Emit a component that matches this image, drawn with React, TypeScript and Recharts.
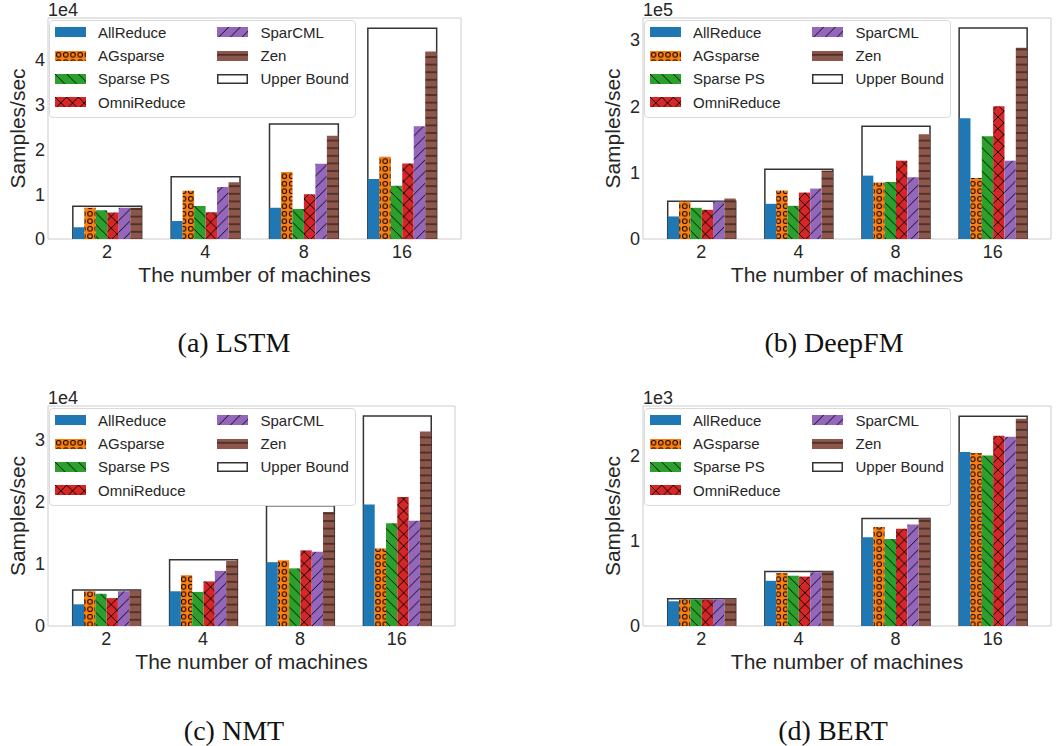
import React from 'react';
import { BarChart, Bar, XAxis, YAxis, CartesianGrid } from 'recharts';

// ---------- shared categories / names ----------
const machines = ['2', '4', '8', '16'];
const seriesNames = ['AllReduce', 'AGsparse', 'Sparse PS', 'OmniReduce', 'SparCML', 'Zen'];
const upperBoundName = 'Upper Bound';
const seriesKeys = ['allReduce', 'agsparse', 'sparsePS', 'omniReduce', 'sparCML', 'zen'];
const seriesFills = [
  '#1f77b4',
  'url(#hatch-circles)',
  'url(#hatch-back)',
  'url(#hatch-cross)',
  'url(#hatch-fwd)',
  'url(#hatch-horiz)',
];
const xLabel = 'The number of machines';
const yLabel = 'Samples/sec';

// ---------- (a) LSTM ----------
const lstmAllReduce = [2600, 4000, 7000, 13400];
const lstmAGsparse = [7000, 10800, 15000, 18400];
const lstmSparsePS = [6400, 7400, 6700, 11900];
const lstmOmniReduce = [5900, 6000, 10000, 16900];
const lstmSparCML = [7000, 11600, 16800, 25200];
const lstmZen = [7000, 12700, 23100, 41900];
const lstmUpperBound = [7300, 13900, 25700, 47100];
const lstmYTicks = [0, 10000, 20000, 30000, 40000];

// ---------- (b) DeepFM ----------
const deepfmAllReduce = [34000, 53000, 95500, 182000];
const deepfmAGsparse = [56500, 73000, 85000, 92000];
const deepfmSparsePS = [47000, 50000, 86000, 155000];
const deepfmOmniReduce = [44000, 70000, 118000, 200000];
const deepfmSparCML = [56500, 76000, 93000, 118000];
const deepfmZen = [61000, 103000, 158000, 288000];
const deepfmUpperBound = [57000, 105000, 170000, 318000];
const deepfmYTicks = [0, 100000, 200000, 300000];

// ---------- (c) NMT ----------
const nmtAllReduce = [3500, 5600, 10300, 19600];
const nmtAGsparse = [5600, 8200, 10600, 12500];
const nmtSparsePS = [5200, 5500, 9300, 16600];
const nmtOmniReduce = [4500, 7200, 12200, 20800];
const nmtSparCML = [5600, 8900, 12000, 17000];
const nmtZen = [5800, 10500, 18400, 31400];
const nmtUpperBound = [5800, 10700, 19400, 33900];
const nmtYTicks = [0, 10000, 20000, 30000];

// ---------- (d) BERT ----------
const bertAllReduce = [290, 530, 1040, 2040];
const bertAGsparse = [310, 620, 1160, 2030];
const bertSparsePS = [310, 590, 1020, 2000];
const bertOmniReduce = [310, 580, 1140, 2230];
const bertSparCML = [310, 630, 1190, 2220];
const bertZen = [320, 640, 1260, 2430];
const bertUpperBound = [320, 640, 1260, 2460];
const bertYTicks = [0, 1000, 2000];

const FONT = '"Liberation Sans", Arial, Helvetica, sans-serif';
const SERIF = '"Liberation Serif", "Times New Roman", serif';
const TEXT = '#262626';

type PanelCfg = {
  left: number;
  top: number;
  width: number;
  height: number;
  margin: { top: number; right: number; bottom: number; left: number };
  series: number[][];
  upper: number[];
  yMax: number;
  yTicks: number[];
  scale: number;
  exponent: string;
  caption: string;
  captionX: number;
};

const panels: PanelCfg[] = [
  {
    left: 0, top: 0, width: 530, height: 300,
    margin: { top: 18, right: 69, bottom: 16, left: 0 },
    series: [lstmAllReduce, lstmAGsparse, lstmSparsePS, lstmOmniReduce, lstmSparCML, lstmZen],
    upper: lstmUpperBound, yMax: 49400, yTicks: lstmYTicks, scale: 1e4, exponent: '1e4',
    caption: '(a) LSTM', captionX: 234,
  },
  {
    left: 530, top: 0, width: 530, height: 300,
    margin: { top: 18, right: 9, bottom: 16, left: 65 },
    series: [deepfmAllReduce, deepfmAGsparse, deepfmSparsePS, deepfmOmniReduce, deepfmSparCML, deepfmZen],
    upper: deepfmUpperBound, yMax: 333000, yTicks: deepfmYTicks, scale: 1e5, exponent: '1e5',
    caption: '(b) DeepFM', captionX: 304,
  },
  {
    left: 0, top: 388, width: 530, height: 300,
    margin: { top: 18, right: 75, bottom: 17, left: 0 },
    series: [nmtAllReduce, nmtAGsparse, nmtSparsePS, nmtOmniReduce, nmtSparCML, nmtZen],
    upper: nmtUpperBound, yMax: 35500, yTicks: nmtYTicks, scale: 1e4, exponent: '1e4',
    caption: '(c) NMT', captionX: 234,
  },
  {
    left: 530, top: 388, width: 530, height: 300,
    margin: { top: 18, right: 9, bottom: 17, left: 65 },
    series: [bertAllReduce, bertAGsparse, bertSparsePS, bertOmniReduce, bertSparCML, bertZen],
    upper: bertUpperBound, yMax: 2580, yTicks: bertYTicks, scale: 1e3, exponent: '1e3',
    caption: '(d) BERT', captionX: 303,
  },
];

const Y_AXIS_W = 48;
const X_AXIS_H = 45;

function PatternDefs() {
  const d = 11.7;
  const cw = 7.2;
  const ch = 7.5;
  const h = 7.6;
  return (
    <svg width={1} height={1} style={{ position: 'absolute', left: 0, top: 0, overflow: 'hidden' }}>
      <defs>
        <pattern id="hatch-circles" patternUnits="userSpaceOnUse" width={cw} height={ch}>
          <rect width={cw} height={ch} fill="#ff7f0e" />
          <circle cx={cw / 2} cy={ch / 2} r={2.3} fill="none" stroke="#000" strokeWidth={1} />
        </pattern>
        <pattern id="hatch-back" patternUnits="userSpaceOnUse" width={d} height={d}>
          <rect width={d} height={d} fill="#2ca02c" />
          <path d={`M-1,-1 L${d + 1},${d + 1} M${-d / 2},${d / 2} L${d / 2},${d * 1.5} M${d / 2},${-d / 2} L${d * 1.5},${d / 2}`} stroke="#000" strokeWidth={0.9} />
        </pattern>
        <pattern id="hatch-fwd" patternUnits="userSpaceOnUse" width={d} height={d}>
          <rect width={d} height={d} fill="#9467bd" />
          <path d={`M-1,${d + 1} L${d + 1},-1 M${-d / 2},${d / 2} L${d / 2},${-d / 2} M${d / 2},${d * 1.5} L${d * 1.5},${d / 2}`} stroke="#000" strokeWidth={0.9} />
        </pattern>
        <pattern id="hatch-cross" patternUnits="userSpaceOnUse" width={d} height={d}>
          <rect width={d} height={d} fill="#d62728" />
          <path d={`M-1,-1 L${d + 1},${d + 1} M-1,${d + 1} L${d + 1},-1`} stroke="#000" strokeWidth={0.9} />
        </pattern>
        <pattern id="hatch-horiz" patternUnits="userSpaceOnUse" width={10} height={h}>
          <rect width={10} height={h} fill="#8c564b" />
          <path d={`M0,${h / 2} L10,${h / 2}`} stroke="#1a0f0c" strokeWidth={1} />
        </pattern>
      </defs>
    </svg>
  );
}

function LegendBox({ x, y }: { x: number; y: number }) {
  const entries = [
    ...seriesNames.map((n, i) => ({ name: n, fill: seriesFills[i], ub: false })),
    { name: upperBoundName, fill: '#ffffff', ub: true },
  ];
  return (
    <div
      style={{
        position: 'absolute', left: x, top: y, width: 307, height: 98, boxSizing: 'border-box',
        border: '1px solid #dadada', borderRadius: 4, background: 'rgba(255,255,255,0.85)',
      }}
    >
      {entries.map((e, i) => {
        const col = i < 4 ? 0 : 1;
        const row = i < 4 ? i : i - 4;
        return (
          <div
            key={e.name}
            style={{
              position: 'absolute', left: col ? 167 : 4.5, top: row * 23.4, height: 23.4,
              display: 'flex', alignItems: 'center', whiteSpace: 'nowrap',
            }}
          >
            <svg width={31} height={10} style={{ display: 'block' }}>
              {e.ub ? (
                <rect x={0.75} y={0.75} width={29.5} height={8.5} fill="#fff" stroke="#333" strokeWidth={1.5} />
              ) : (
                <rect x={0} y={0} width={31} height={10} fill={e.fill} />
              )}
            </svg>
            <span style={{ marginLeft: 12.5, fontSize: 15, fontFamily: FONT, color: TEXT, lineHeight: '15px' }}>
              {e.name}
            </span>
          </div>
        );
      })}
    </div>
  );
}

function Panel({ cfg }: { cfg: PanelCfg }) {
  const { left, top, width, height, margin, series, upper, yMax, yTicks, scale, exponent, caption, captionX } = cfg;
  const rows = machines.map((m, i) => {
    const r: Record<string, string | number> = { machines: m, upper: upper[i] };
    seriesKeys.forEach((k, j) => {
      r[k] = series[j][i];
    });
    return r;
  });
  const plotLeft = margin.left + Y_AXIS_W;
  const plotW = width - plotLeft - margin.right;
  const unit = plotW / 4.2;
  const pad = unit * 0.1;
  const barSize = (unit * 0.7) / 6;
  const tickStyle = { fontSize: 18, fill: TEXT, fontFamily: FONT };
  const labelStyle = { fontSize: 21, fill: TEXT, fontFamily: FONT, textAnchor: 'middle' as const };

  return (
    <div style={{ position: 'absolute', left, top, width, height: 388 }}>
      <BarChart width={width} height={height} data={rows} margin={margin} barGap={0}>
        <CartesianGrid
          stroke="#cccccc"
          fill="none"
          horizontalCoordinatesGenerator={(p: any) => (p && p.offset ? [p.offset.top, p.offset.top + p.offset.height] : [])}
          verticalCoordinatesGenerator={(p: any) => (p && p.offset ? [p.offset.left, p.offset.left + p.offset.width] : [])}
        />
        <XAxis
          dataKey="machines"
          height={X_AXIS_H}
          padding={{ left: pad, right: pad }}
          axisLine={false}
          tickLine={false}
          tickSize={0}
          tickMargin={6}
          tick={tickStyle}
          interval={0}
          label={{ value: xLabel, position: 'insideBottom', offset: 2.5, style: labelStyle }}
        />
        <XAxis xAxisId="ub" dataKey="machines" hide padding={{ left: pad, right: pad }} />
        <YAxis
          type="number"
          domain={[0, yMax]}
          ticks={yTicks}
          allowDataOverflow
          width={Y_AXIS_W}
          axisLine={false}
          tickLine={false}
          tickSize={0}
          tickMargin={3}
          tick={tickStyle}
          tickFormatter={(v: number) => String(Math.round(v / scale))}
          label={{ value: yLabel, angle: -90, position: 'insideLeft', offset: 17.5, style: labelStyle }}
        />
        <Bar
          xAxisId="ub"
          dataKey="upper"
          name={upperBoundName}
          fill="#ffffff"
          stroke="#333333"
          strokeWidth={1.5}
          barSize={barSize * 6}
          isAnimationActive={false}
        />
        {seriesKeys.map((k, j) => (
          <Bar
            key={k}
            dataKey={k}
            name={seriesNames[j]}
            fill={seriesFills[j]}
            barSize={barSize}
            isAnimationActive={false}
          />
        ))}
      </BarChart>
      <LegendBox x={plotLeft + 1} y={margin.top + 1.5} />
      <svg width={width} height={388} style={{ position: 'absolute', left: 0, top: 0, pointerEvents: 'none' }}>
        <text x={plotLeft} y={margin.top - 1.8} fontSize={18} fontFamily={FONT} fill={TEXT}>
          {exponent}
        </text>
        <text x={captionX} y={351.7} fontSize={28} fontFamily={SERIF} fill="#111" textAnchor="middle">
          {caption}
        </text>
      </svg>
    </div>
  );
}

export default function App() {
  return (
    <div style={{ position: 'absolute', left: 0, top: 0, width: 1060, height: 746, background: '#fff', overflow: 'hidden' }}>
      <PatternDefs />
      {panels.map((p) => (
        <Panel key={p.caption} cfg={p} />
      ))}
    </div>
  );
}
